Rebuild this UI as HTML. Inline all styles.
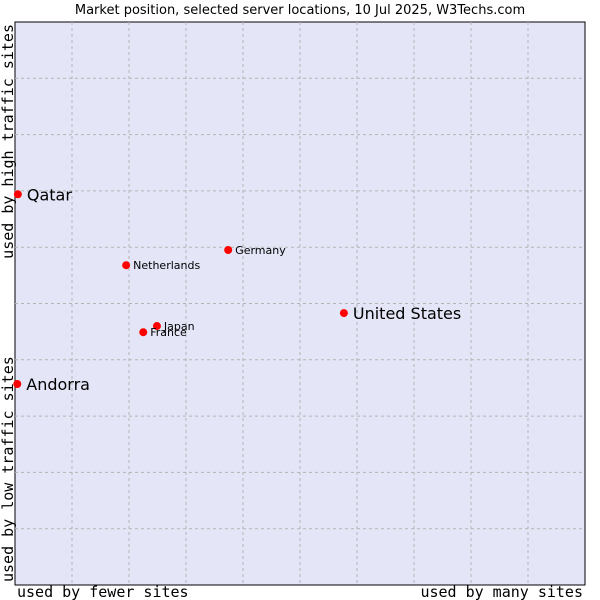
<!DOCTYPE html>
<html><head><meta charset="utf-8"><style>
html,body{margin:0;padding:0;background:#fff;}
svg{display:block;}
</style></head><body>
<svg id="chart" width="600" height="600" xmlns="http://www.w3.org/2000/svg">
<text x="300" y="14" text-anchor="middle" font-family="DejaVu Sans, sans-serif" font-size="13" fill="#000">Market position, selected server locations, 10 Jul 2025, W3Techs.com</text>
<rect x="15" y="22" width="570" height="563" fill="#e4e6f8" stroke="#000" stroke-width="1"/>
<g id="grid"></g>
<g id="points"></g>
<text x="17" y="597" font-family="DejaVu Sans Mono, monospace" font-size="15">used by fewer sites</text>
<text x="583" y="597" text-anchor="end" font-family="DejaVu Sans Mono, monospace" font-size="15">used by many sites</text>
<text transform="translate(13,582) rotate(-90)" font-family="DejaVu Sans Mono, monospace" font-size="15">used by low traffic sites</text>
<text transform="translate(13,24) rotate(-90)" text-anchor="end" font-family="DejaVu Sans Mono, monospace" font-size="15">used by high traffic sites</text>
</svg>
<script>
const names = ["Qatar","Andorra","United States","Netherlands","Germany","Japan","France"];
const xValues = [0.5,0.4,57.7,19.5,37.4,24.9,22.5];
const yValues = [69.4,35.7,48.3,56.8,59.5,46.0,44.9];
const bigLabel = [true,true,true,false,false,false,false];
const NS="http://www.w3.org/2000/svg";
const L=15,R=585,T=22,B=585;
const sx=v=>L+(R-L)*v/100, sy=v=>B-(B-T)*v/100;
const grid=document.getElementById('grid');
for(let i=1;i<10;i++){
  const v=document.createElementNS(NS,'line');
  v.setAttribute('x1',sx(i*10));v.setAttribute('x2',sx(i*10));v.setAttribute('y1',T);v.setAttribute('y2',B);
  v.setAttribute('stroke','#b4b4b4');v.setAttribute('stroke-dasharray','3,3');
  
  
  grid.appendChild(v);
  const h=document.createElementNS(NS,'line');
  h.setAttribute('y1',sy(i*10));h.setAttribute('y2',sy(i*10));h.setAttribute('x1',L);h.setAttribute('x2',R);
  h.setAttribute('stroke','#b4b4b4');h.setAttribute('stroke-dasharray','3,3');
  
  
  grid.appendChild(h);
}
const pts=document.getElementById('points');
names.forEach((n,i)=>{
  const x=sx(xValues[i]),y=sy(yValues[i]);
  const c=document.createElementNS(NS,'circle');
  c.setAttribute('cx',x);c.setAttribute('cy',y);c.setAttribute('r',4);c.setAttribute('fill','#f00');
  
  
  pts.appendChild(c);
  const t=document.createElementNS(NS,'text');
  t.setAttribute('x',x+(bigLabel[i]?9:7));t.setAttribute('y',y+(bigLabel[i]?6:4));
  t.setAttribute('font-family','DejaVu Sans, sans-serif');
  t.setAttribute('font-size',bigLabel[i]?16:11);
  t.textContent=n;
  
  
  pts.appendChild(t);
});
</script>
</body></html>
